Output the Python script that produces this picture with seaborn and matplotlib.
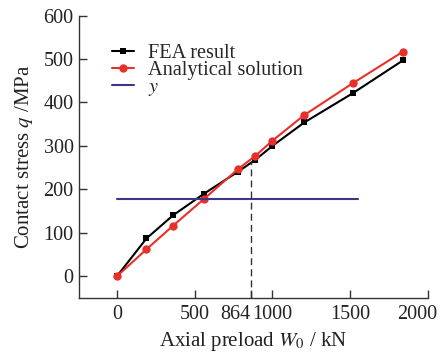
import matplotlib
matplotlib.use("Agg")
import matplotlib.pyplot as plt
import matplotlib.transforms as mtransforms
import seaborn as sns
import pandas as pd

# Data
preload = [0, 190, 360, 560, 780, 890, 1000, 1205, 1520, 1840]
fea = [0, 87, 140, 190, 241, 268, 300, 354, 422, 497]
analytical = [0, 62, 116, 178, 247, 277, 312, 371, 445, 517]
y_level = [178, 178]
y_range = [0, 1550]
dash_x = 864
xtick_vals = [0, 500, 864, 1000, 1500, 2000]
ytick_vals = [0, 100, 200, 300, 400, 500, 600]

sns.set_theme(style="ticks")
plt.rcParams["font.family"] = ["Liberation Serif", "DejaVu Serif"]
plt.rcParams["mathtext.fontset"] = "stix"

fig = plt.figure(figsize=(4.42, 3.52), dpi=100)
ax = fig.add_axes([0.179, 0.1534, 0.789, 0.8023])

df_fea = pd.DataFrame({"x": preload, "y": fea})
df_ana = pd.DataFrame({"x": preload, "y": analytical})
df_y = pd.DataFrame({"x": y_range, "y": y_level})

sns.lineplot(data=df_fea, x="x", y="y", ax=ax, color="black", marker="s",
             markersize=5, markeredgewidth=0, linewidth=1.5, label="FEA result")
sns.lineplot(data=df_ana, x="x", y="y", ax=ax, color="#e8302a", marker="o",
             markersize=6, markeredgewidth=0, linewidth=1.5, label="Analytical solution")
sns.lineplot(data=df_y, x="x", y="y", ax=ax, color="#3f3585", linewidth=1.5, label="$y$")

ax.plot([dash_x, dash_x], [-50, 266], color="#333333", linestyle=(0, (5, 3)), linewidth=1.0)

ax.set_xlim(-243, 2000)
ax.set_ylim(-50, 600)
ax.set_xticks(xtick_vals)
ax.set_xticklabels([str(v) for v in xtick_vals])
ax.set_yticks(ytick_vals)
ax.tick_params(direction="in", length=6, width=1, labelsize=14.5, color="#333333", labelcolor="#222222")
ax.tick_params(axis="x", pad=5)
ax.tick_params(axis="y", pad=4)
for s in ["top", "right"]:
    ax.spines[s].set_visible(False)
for s in ["left", "bottom"]:
    ax.spines[s].set_linewidth(1.0)
    ax.spines[s].set_color("#333333")

# nudge crowded tick labels like the reference
offsets = {2: -16, 5: -11}
for i, lab in enumerate(ax.get_xticklabels()):
    if i in offsets:
        lab.set_transform(lab.get_transform() +
                          mtransforms.ScaledTranslation(offsets[i] / 100, 0, fig.dpi_scale_trans))

ax.set_xlabel("Axial preload $W_0$ / kN", fontsize=15, labelpad=4, color="#222222")
ax.set_ylabel("Contact stress $q$ /MPa", fontsize=15, labelpad=6, color="#222222")

leg = ax.legend(loc="upper left", bbox_to_anchor=(0.07, 0.93), frameon=False,
                fontsize=14.6, handlelength=1.1, handletextpad=0.7,
                labelspacing=-0.1, borderaxespad=0)

fig.savefig("out.png", dpi=100)
